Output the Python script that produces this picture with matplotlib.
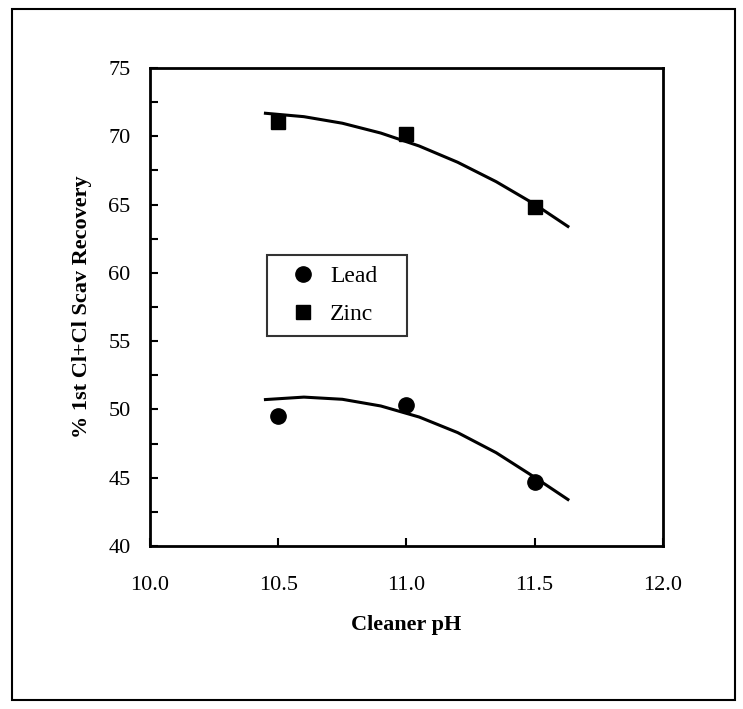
import matplotlib.pyplot as plt
from matplotlib.patches import Rectangle
from matplotlib.ticker import MultipleLocator

plt.rcParams['font.family'] = ['Liberation Serif', 'DejaVu Serif']

ph = [10.5, 11.0, 11.5]
lead = [49.5, 50.3, 44.7]
zinc = [71.05, 70.2, 64.8]

# trend lines
curve_ph = [10.45, 10.6, 10.75, 10.9, 11.05, 11.2, 11.35, 11.5, 11.63]
lead_curve = [50.72, 50.90, 50.74, 50.25, 49.44, 48.30, 46.83, 45.03, 43.4]
zinc_curve = [71.69, 71.44, 70.96, 70.24, 69.29, 68.10, 66.68, 65.03, 63.4]

fig = plt.figure(figsize=(7.43, 7.09), dpi=100)
ax = fig.add_axes([0.202, 0.230, 0.690, 0.674])

ax.plot(curve_ph, zinc_curve, color='black', lw=2.2)
ax.plot(curve_ph, lead_curve, color='black', lw=2.2)
ax.plot(ph, lead, 'o', color='black', ms=11, label='Lead')
ax.plot(ph, zinc, 's', color='black', ms=10.5, label='Zinc')

ax.set_xlim(10.0, 12.0)
ax.set_ylim(40, 75)
ax.xaxis.set_major_locator(MultipleLocator(0.5))
ax.yaxis.set_major_locator(MultipleLocator(5))
ax.yaxis.set_minor_locator(MultipleLocator(2.5))
ax.xaxis.set_major_formatter(plt.FormatStrFormatter('%.1f'))
ax.tick_params(direction='in', labelsize=16, width=1.5, length=6, pad=14)
ax.tick_params(axis='y', which='minor', direction='in', width=1.5, length=6)
ax.tick_params(axis='x', pad=22)
for s in ax.spines.values():
    s.set_linewidth(2)

ax.set_xlabel('Cleaner pH', fontsize=16, fontweight='bold', labelpad=14)
ax.set_ylabel('% 1st Cl+Cl Scav Recovery', fontsize=16, fontweight='bold', labelpad=12)

leg = ax.legend(loc='upper left', bbox_to_anchor=(0.228, 0.437, 0.273, 0.172),
                mode='expand', fontsize=17, frameon=True, fancybox=False,
                edgecolor='black', handletextpad=0.07, borderpad=0.45,
                labelspacing=0.7, handlelength=2.15, borderaxespad=0)
leg.get_frame().set_linewidth(1.5)

# scanned page border
fig.patches.append(Rectangle((0.016, 0.012), 0.973, 0.975, transform=fig.transFigure,
                             fill=False, edgecolor='black', lw=1.5))

fig.savefig('out.png', dpi=100, facecolor='white')
